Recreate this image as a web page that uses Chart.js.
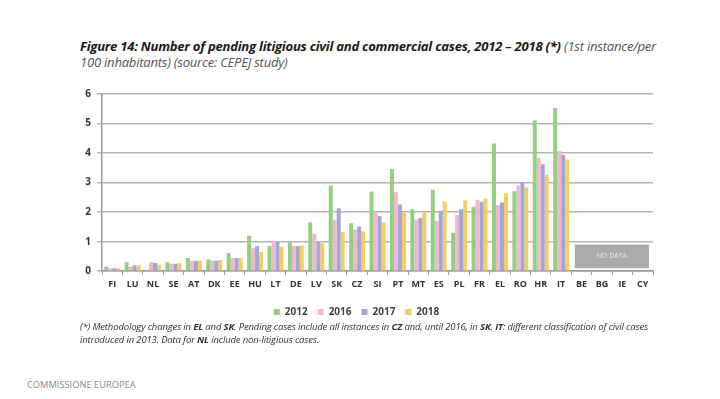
<!DOCTYPE html>
<html>
<head>
<meta charset="utf-8">
<script src="https://cdn.jsdelivr.net/npm/chart.js@4/dist/chart.umd.min.js"></script>
<style>
  body { margin: 0; background: #fff; font-family: "Open Sans", sans-serif; }
  #page { position: relative; width: 720px; height: 399px; overflow: hidden; }
  .title { position: absolute; left: 80px; top: 38px; font-size: 13.1px; color: #1a1a1a; font-style: italic; line-height: 16px; letter-spacing: -0.25px; }
  .title b { font-weight: 700; }
  .title span { color: #555; font-weight: 400; }
  #wrap { position: absolute; left: 60px; top: 82px; width: 610px; height: 245px; }
  .note { position: absolute; left: 80px; top: 320px; width: 640px; font-size: 9.5px; font-style: italic; color: #333; line-height: 13px; letter-spacing: -0.15px; white-space: nowrap; }
  .foot { position: absolute; left: 27px; top: 378px; font-size: 9.3px; color: #888; }
</style>
</head>
<body>
<div id="page">
  <div class="title"><b>Figure 14: Number of pending litigious civil and commercial cases, 2012 – 2018 (*)</b> <span>(1st instance/per<br>100 inhabitants) (source: CEPEJ study)</span></div>
  <div id="wrap"><canvas id="chart"></canvas></div>
  <div class="note">(*) Methodology changes in <b>EL</b> and <b>SK</b>. Pending cases include all instances in <b>CZ</b> and, until 2016, in <b>SK</b>. <b>IT</b>: different classification of civil cases<br>introduced in 2013. Data for <b>NL</b> include non-litigious cases.</div>
  <div class="foot">COMMISSIONE EUROPEA</div>
</div>
<script>
const countries = ["FI","LU","NL","SE","AT","DK","EE","HU","LT","DE","LV","SK","CZ","SI","PT","MT","ES","PL","FR","EL","RO","HR","IT","BE","BG","IE","CY"];
const v2012 = [0.15,0.3,null,0.3,0.45,0.4,0.62,1.2,0.85,1.0,1.66,2.9,1.62,2.7,3.46,2.1,2.76,1.3,2.18,4.32,2.71,5.1,5.53,null,null,null,null];
const v2016 = [0.1,0.15,0.3,0.25,0.35,0.35,0.45,0.78,1.02,0.85,1.27,1.74,1.4,2.0,2.67,1.75,1.7,1.9,2.42,2.24,2.9,3.83,4.07,null,null,null,null];
const v2017 = [0.1,0.2,0.28,0.25,0.35,0.35,0.45,0.85,1.0,0.85,1.0,2.13,1.51,1.87,2.26,1.8,2.05,2.1,2.35,2.33,3.01,3.62,3.94,null,null,null,null];
const v2018 = [0.1,0.2,0.22,0.27,0.35,0.38,0.45,0.65,0.83,0.87,0.95,1.32,1.35,1.65,2.0,2.0,2.36,2.39,2.45,2.64,2.83,3.27,3.78,null,null,null,null];
const yTicks = [0,1,2,3,4,5,6];
const noDataFrom = "BE";
const noDataTo = "CY";

const colors = ["#93cf80","#f2b6cd","#9ea6da","#f7cd5e"];

const noDataBox = {
    id: "noDataBox",
    afterDatasetsDraw(chart) {
        const x = chart.scales.x, y = chart.scales.y;
        const cat = x.getPixelForValue(1) - x.getPixelForValue(0);
        const x0 = x.getPixelForValue(countries.indexOf(noDataFrom)) - cat * 0.33;
        const x1 = x.getPixelForValue(countries.indexOf(noDataTo)) + cat * 0.3;
        const y0 = y.getPixelForValue(0.9);
        const y1 = y.getPixelForValue(0.1);
        const c = chart.ctx;
        c.save();
        c.fillStyle = "#ababab";
        c.fillRect(x0, y0, x1 - x0, y1 - y0);
        c.fillStyle = "#e8e8e8";
        c.font = "7px 'Open Sans'";
        c.textAlign = "center";
        c.textBaseline = "middle";
        c.fillText("NO DATA", (x0 + x1) / 2, (y0 + y1) / 2);
        c.restore();
    }
};

const ctx = document.getElementById("chart").getContext("2d");
const chart = new Chart(ctx, {
    type: "bar",
    data: {
        labels: countries,
        datasets: [
            { label: "2012", data: v2012, backgroundColor: colors[0] },
            { label: "2016", data: v2016, backgroundColor: colors[1] },
            { label: "2017", data: v2017, backgroundColor: colors[2] },
            { label: "2018", data: v2018, backgroundColor: colors[3] }
        ]
    },
    options: {
        responsive: true,
        maintainAspectRatio: false,
        animation: false,
        layout: { padding: { left: 0, right: 17, top: 4, bottom: 0 } },
        datasets: { bar: { categoryPercentage: 0.78, barPercentage: 1.0 } },
        plugins: {
            legend: {
                position: "bottom",
                labels: { boxWidth: 6, boxHeight: 6, padding: 10, color: "#444", font: { family: "Open Sans", size: 10, weight: "bold" } }
            },
            tooltip: { enabled: false }
        },
        scales: {
            x: {
                afterFit: (s) => { s.height += 3; },
                grid: { display: true, drawOnChartArea: false, drawTicks: true, tickLength: 4, color: "#999", offset: true },
                border: { color: "#999", width: 1.5 },
                ticks: { color: "#333", font: { family: "Open Sans", size: 9, weight: "bold" }, maxRotation: 0, autoSkip: false, padding: 4 }
            },
            y: {
                min: 0, max: 6,
                afterBuildTicks: (s) => { s.ticks = yTicks.map(v => ({ value: v })); },
                afterFit: (s) => { s.width = 42; },
                grid: { color: "#b5b5b5", lineWidth: 1.5, tickLength: 5 },
                border: { color: "#999", width: 1.5 },
                ticks: { color: "#333", font: { family: "Open Sans", size: 10, weight: "bold" }, padding: 6 }
            }
        }
    },
    plugins: [noDataBox]
});
</script>
</body>
</html>
